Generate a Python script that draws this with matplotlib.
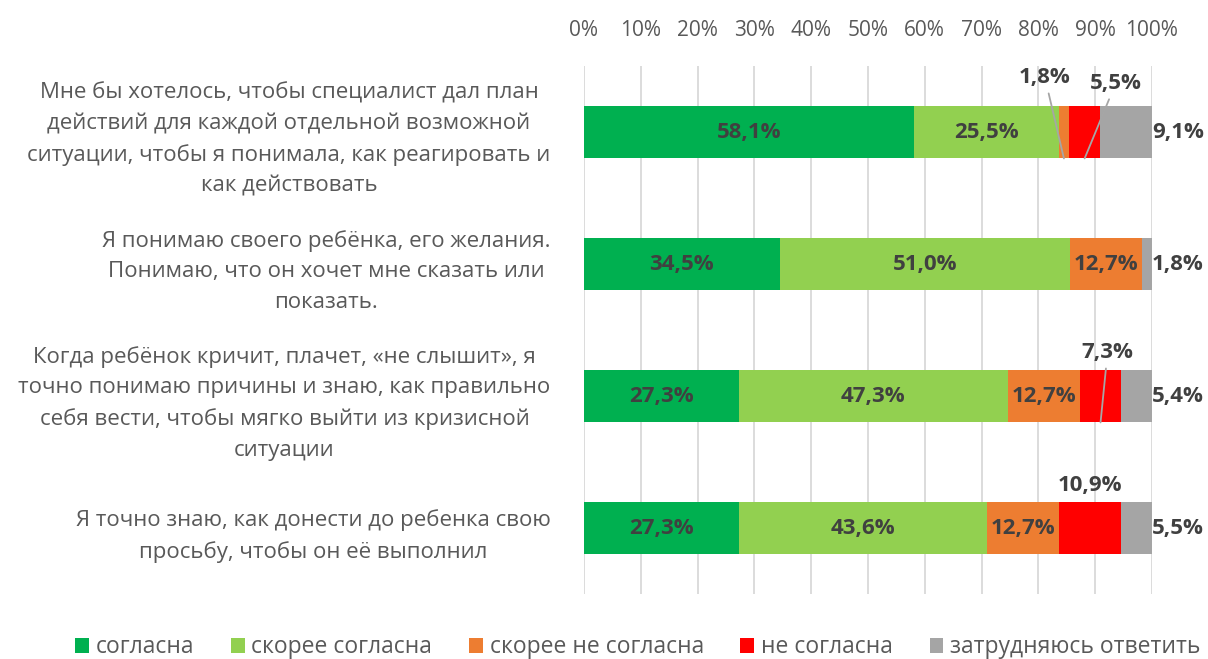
import numpy as np
import matplotlib.pyplot as plt

plt.rcParams['font.family'] = ['Open Sans', 'DejaVu Sans']

questions = [
    "Мне бы хотелось, чтобы специалист дал план\nдействий для каждой отдельной возможной\nситуации, чтобы я понимала, как реагировать и\nкак действовать",
    "Я понимаю своего ребёнка, его желания.\nПонимаю, что он хочет мне сказать или\nпоказать.",
    "Когда ребёнок кричит, плачет, «не слышит», я\nточно понимаю причины и знаю, как правильно\nсебя вести, чтобы мягко выйти из кризисной\nситуации",
    "Я точно знаю, как донести до ребенка свою\nпросьбу, чтобы он её выполнил",
]
series_names = ["согласна", "скорее согласна", "скорее не согласна", "не согласна", "затрудняюсь ответить"]
agree = [58.1, 34.5, 27.3, 27.3]
rather_agree = [25.5, 51.0, 47.3, 43.6]
rather_disagree = [1.8, 12.7, 12.7, 12.7]
disagree = [5.5, 0.0, 7.3, 10.9]
hard_to_say = [9.1, 1.8, 5.4, 5.5]
values = [agree, rather_agree, rather_disagree, disagree, hard_to_say]
colors = ["#00B050", "#92D050", "#ED7D31", "#FF0000", "#A5A5A5"]

txt_col = "#595959"
lbl_col = "#404040"
lbl_size = 16

# labels placed outside the bar: (row, series) -> offset in pixels from bar bottom, leader line?
outside = {
    (0, 2): (-19, 81, True),
    (0, 3): (31, 75, True),
    (2, 3): (7, 70, True),
    (3, 3): (0, 69, False),
}

fig = plt.figure(figsize=(12.08, 6.59), dpi=100)
ax = fig.add_axes([0.4834, 0.0986, 0.4702, 0.8012])

y = np.arange(len(questions))
left = np.zeros(len(questions))
for k, vals in enumerate(values):
    vals = np.array(vals)
    ax.barh(y, vals, left=left, height=0.4, color=colors[k], label=series_names[k], zorder=3)
    for i, v in enumerate(vals):
        if v <= 0:
            continue
        s = f"{v:.1f}%".replace(".", ",")
        cx = left[i] + v / 2
        if k == 4:
            ax.annotate(s, xy=(100, y[i]), xytext=(26, 0), textcoords='offset pixels',
                        ha='center', va='center', fontsize=lbl_size, fontweight='bold', color=lbl_col)
        elif (i, k) in outside:
            dx, dy, line = outside[(i, k)]
            ap = dict(arrowstyle='-', color='#A6A6A6', lw=1.3, shrinkA=2, shrinkB=0) if line else None
            ax.annotate(s, xy=(cx, y[i] + 0.2), xytext=(dx, dy), textcoords='offset pixels',
                        ha='center', va='center', fontsize=lbl_size, fontweight='bold', color=lbl_col,
                        arrowprops=ap, zorder=5)
        else:
            ax.text(cx, y[i], s, ha='center', va='center', fontsize=lbl_size, fontweight='bold',
                    color=lbl_col, zorder=4)
    left += vals

ax.set_xlim(0, 100)
ax.set_ylim(3.5, -0.5)
ax.set_xticks(np.arange(0, 101, 10))
ax.set_xticklabels([f"{t}%" for t in range(0, 101, 10)], fontsize=15, color=txt_col)
ax.xaxis.tick_top()
ax.tick_params(axis='x', length=0, pad=18)
ax.set_yticks(y)
ax.set_yticklabels(questions, fontsize=16, color=txt_col, multialignment='center', linespacing=1.6)
ax.tick_params(axis='y', length=0, pad=24)
ax.grid(axis='x', color='#D9D9D9', lw=1.3, zorder=0)
for sp in ax.spines.values():
    sp.set_visible(False)

fig.legend(loc='lower center', bbox_to_anchor=(0.528, -0.032), ncol=5, frameon=False,
           fontsize=16.5, labelcolor=txt_col, handlelength=0.6, handleheight=0.6,
           handletextpad=0.3, columnspacing=1.6)

fig.savefig("out.png", dpi=100)
